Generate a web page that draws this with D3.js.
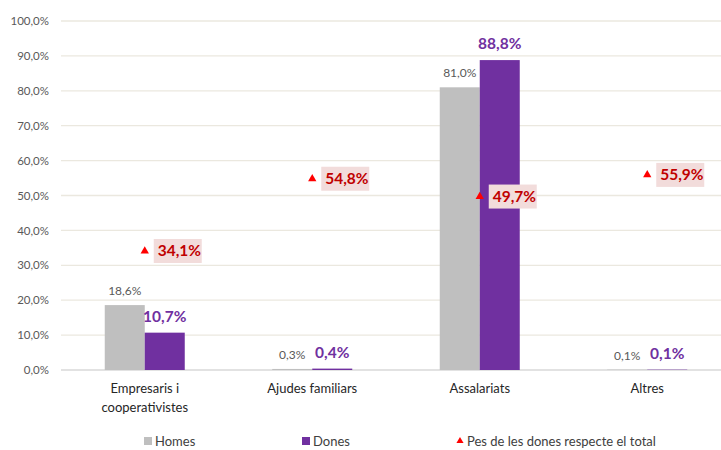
<!DOCTYPE html>
<html>
<head>
<meta charset="utf-8">
<script src="https://cdn.jsdelivr.net/npm/d3@7"></script>
<style>
  body { margin: 0; background: #fff; }
  svg { font-family: Lato, "Open Sans", sans-serif; display: block; }
</style>
</head>
<body>
<div id="chart"></div>
<script>
const categories = ["Empresaris i cooperativistes", "Ajudes familiars", "Assalariats", "Altres"];
const homes = [18.6, 0.3, 81.0, 0.1];
const dones = [10.7, 0.4, 88.8, 0.1];
const pesDones = [34.1, 54.8, 49.7, 55.9];
const yTicks = [0, 10, 20, 30, 40, 50, 60, 70, 80, 90, 100];
const seriesNames = ["Homes", "Dones"];

const width = 721, height = 450;
const plotLeft = 61, plotRight = 731, plotTop = 21, plotBottom = 370;
const barW = 40;

const fmt = v => v.toFixed(1).replace(".", ",") + "%";

const svg = d3.select("#chart").append("svg")
    .attr("width", width)
    .attr("height", height);

const x = d3.scaleBand().domain(categories).range([plotLeft, plotRight]).padding(0);
const xs = d3.scaleBand().domain(seriesNames)
    .range([x.bandwidth() / 2 - barW, x.bandwidth() / 2 + barW]);
const y = d3.scaleLinear().domain([0, 100]).range([plotBottom, plotTop]);

const colour = { Homes: "#bfbfbf", Dones: "#7030a0" };

// gridlines
svg.append("g").selectAll("line")
    .data(yTicks)
    .enter().append("line")
    .attr("x1", plotLeft).attr("x2", width)
    .attr("y1", d => y(d)).attr("y2", d => y(d))
    .attr("stroke", d => d === 0 ? "#d9d9d9" : "#ebe8df")
    .attr("stroke-width", 1.3);

// y axis labels
const yAxis = svg.append("g")
    .attr("transform", `translate(${plotLeft},0)`)
    .call(d3.axisLeft(y).tickValues(yTicks).tickSize(0).tickPadding(12).tickFormat(fmt));
yAxis.select(".domain").remove();
yAxis.selectAll("text")
    .attr("fill", "#595959")
    .style("font-size", "11.5px")
    .style("font-family", "Lato, sans-serif");

// bars
const rows = categories.map((c, i) => ({ cat: c, Homes: homes[i], Dones: dones[i], pes: pesDones[i] }));

const groups = svg.append("g").selectAll("g")
    .data(rows)
    .enter().append("g")
    .attr("transform", d => `translate(${x(d.cat)},0)`);

groups.selectAll("rect")
    .data(d => seriesNames.map(s => ({ s, v: d[s] })))
    .enter().append("rect")
    .attr("x", d => xs(d.s))
    .attr("width", xs.bandwidth())
    .attr("y", d => y(d.v))
    .attr("height", d => y(0) - y(d.v))
    .attr("fill", d => colour[d.s]);

// value labels
groups.append("text")
    .attr("x", xs("Homes") + xs.bandwidth() / 2)
    .attr("y", d => y(d.Homes) - 10)
    .attr("text-anchor", "middle")
    .attr("fill", "#595959")
    .style("font-size", "12px")
    .text(d => fmt(d.Homes));

groups.append("text")
    .attr("x", xs("Dones") + xs.bandwidth() / 2)
    .attr("y", d => y(d.Dones) - 11)
    .attr("text-anchor", "middle")
    .attr("fill", "#7030a0")
    .style("font-size", "15.5px")
    .style("font-weight", "bold")
    .text(d => fmt(d.Dones));

// pes markers
const tri = d3.symbol().type(d3.symbolTriangle).size(30);
groups.append("path")
    .attr("d", tri)
    .attr("transform", d => `translate(${x.bandwidth() / 2},${y(d.pes)})`)
    .attr("fill", "#ff0000");

groups.append("rect")
    .attr("x", x.bandwidth() / 2 + 9)
    .attr("y", d => y(d.pes) - 12)
    .attr("width", 48)
    .attr("height", 24)
    .attr("fill", "#f2dcdb");

groups.append("text")
    .attr("x", x.bandwidth() / 2 + 13)
    .attr("y", d => y(d.pes) + 5.5)
    .attr("fill", "#c00000")
    .style("font-size", "15.5px")
    .style("font-weight", "bold")
    .text(d => fmt(d.pes));

// category labels
const catLines = {
    "Empresaris i cooperativistes": ["Empresaris i", "cooperativistes"]
};
groups.append("text")
    .attr("text-anchor", "middle")
    .attr("fill", "#262626")
    .style("font-size", "13px")
    .each(function(d) {
        const lines = catLines[d.cat] || [d.cat];
        d3.select(this).selectAll("tspan")
            .data(lines)
            .enter().append("tspan")
            .attr("x", x.bandwidth() / 2)
            .attr("y", (l, i) => 393 + i * 19)
            .text(l => l);
    });

// legend
const legendItems = [
    { label: "Homes", type: "rect", color: "#bfbfbf", x: 144 },
    { label: "Dones", type: "rect", color: "#7030a0", x: 302 },
    { label: "Pes de les dones respecte el total", type: "tri", color: "#ff0000", x: 456 }
];
const legY = 441;
const leg = svg.append("g").selectAll("g")
    .data(legendItems)
    .enter().append("g")
    .attr("transform", d => `translate(${d.x},${legY})`);

leg.filter(d => d.type === "rect").append("rect")
    .attr("x", 0).attr("y", -4)
    .attr("width", 8).attr("height", 8)
    .attr("fill", d => d.color);

leg.filter(d => d.type === "tri").append("path")
    .attr("d", d3.symbol().type(d3.symbolTriangle).size(22))
    .attr("transform", "translate(4,0)")
    .attr("fill", d => d.color);

leg.append("text")
    .attr("x", 11)
    .attr("y", 5)
    .attr("fill", "#404040")
    .style("font-size", "13px")
    .text(d => d.label);
</script>
</body>
</html>
